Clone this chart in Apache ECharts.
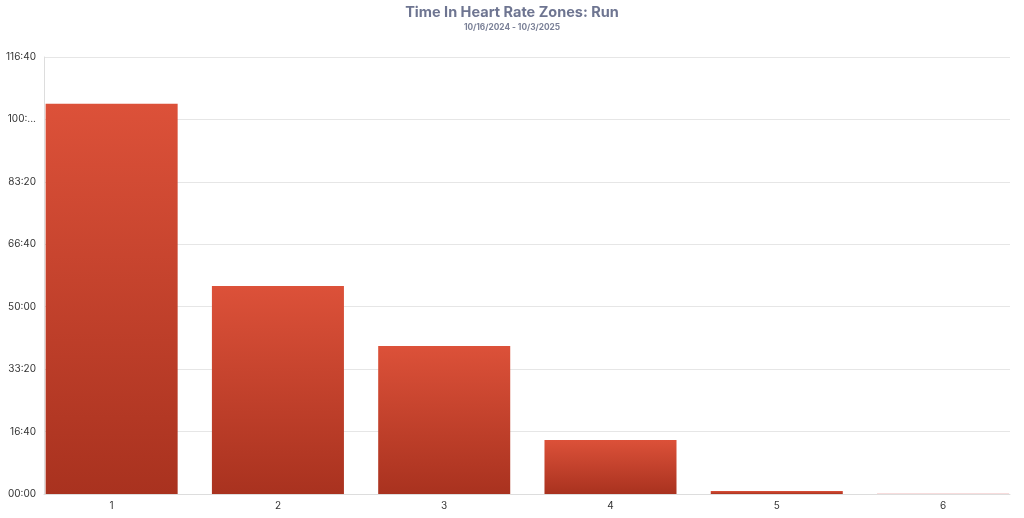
<!DOCTYPE html>
<html><head><meta charset="utf-8">
<script src="https://cdn.jsdelivr.net/npm/echarts@6/dist/echarts.min.js"></script>
<style>html,body{margin:0;padding:0;background:#fff}#c{width:1024px;height:518px}</style>
</head><body><div id="c"></div>
<script>
const categories = ['1','2','3','4','5','6'];
const values = [6250, 3333, 2372, 865, 48, 16];
const tickLabels = ['00:00','16:40','33:20','50:00','66:40','83:20','100:...','116:40'];
const tickInterval = 1000;
const yMax = 7000;

const chart = echarts.init(document.getElementById('c'));
const grad = new echarts.graphic.LinearGradient(0,0,0,1,[{offset:0,color:'#dc5139'},{offset:1,color:'#a9321f'}]);
chart.setOption({
  animation:false,
  title:{text:'Time In Heart Rate Zones: Run',subtext:'10/16/2024 - 10/3/2025',left:'center',top:0,itemGap:4,
    textStyle:{fontFamily:'Inter',fontSize:14.5,fontWeight:'bold',color:'#6e7591'},
    subtextStyle:{fontFamily:'Inter',fontSize:8.3,fontWeight:'bold',color:'#7a8097'}},
  grid:[
    {left:44,right:14,top:57,bottom:24,outerBoundsMode:'none'},
    {left:28.5,right:-2.2,top:57,bottom:24,outerBoundsMode:'none'}
  ],
  xAxis:[
    {gridIndex:0,type:'category',data:categories,axisTick:{show:false},axisLabel:{show:false},
      axisLine:{lineStyle:{color:'#dddddd'}}},
    {gridIndex:1,type:'category',data:categories,axisTick:{show:false},axisLine:{show:false},
      axisLabel:{color:'#333',fontFamily:'Inter',fontSize:10,margin:7}}
  ],
  yAxis:[
    {gridIndex:0,type:'value',min:0,max:yMax,interval:tickInterval,
      axisLine:{show:true,lineStyle:{color:'#dddddd'}},
      splitLine:{lineStyle:{color:'#e6e6e6'}},
      axisLabel:{color:'#333',fontFamily:'Inter',fontSize:10,margin:8,
        formatter:(v)=>tickLabels[Math.round(v/tickInterval)]}},
    {gridIndex:1,type:'value',min:0,max:yMax,interval:tickInterval,show:false,splitLine:{show:false}}
  ],
  series:[{type:'bar',xAxisIndex:1,yAxisIndex:1,barCategoryGap:'20.6%',
    data:values.map((v,i)=>({value:v,itemStyle:{color:i===5?'#f7dcdc':grad}}))}]
});
</script></body></html>
